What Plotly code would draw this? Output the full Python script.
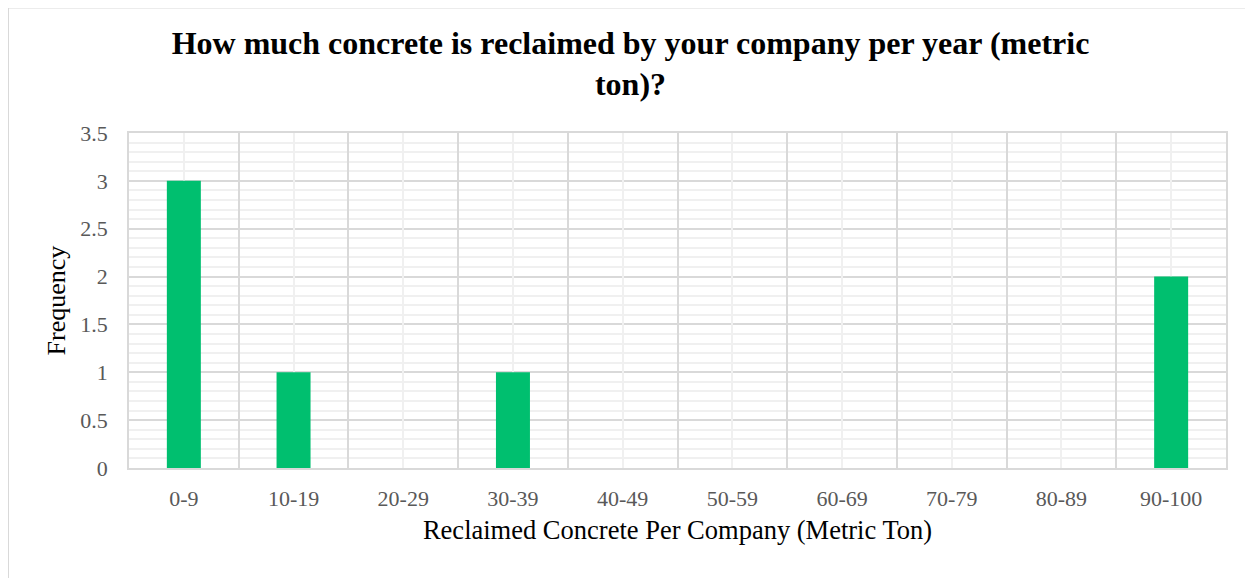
import plotly.graph_objects as go

categories = ["0-9", "10-19", "20-29", "30-39", "40-49",
              "50-59", "60-69", "70-79", "80-89", "90-100"]
frequency = [3, 1, 0, 1, 0, 0, 0, 0, 0, 2]

FONT = "Liberation Serif, Times New Roman, serif"
MAJOR = "#d9d9d9"
MINOR = "#f0f0f0"

fig = go.Figure()

fig.add_trace(
    go.Bar(
        x=categories,
        y=frequency,
        marker=dict(color="#00bf6f", line=dict(width=0)),
        width=0.31,
    )
)

# invisible trace on a numeric overlay axis, only to draw the minor vertical grid
fig.add_trace(
    go.Scatter(
        x=[0, 9],
        y=[0, 0],
        xaxis="x2",
        mode="markers",
        marker=dict(opacity=0),
        hoverinfo="skip",
        showlegend=False,
    )
)

fig.update_layout(
    width=1245,
    height=570,
    margin=dict(l=121, r=27, t=125, b=110),
    paper_bgcolor="white",
    plot_bgcolor="white",
    showlegend=False,
    title=dict(
        text="How much concrete is reclaimed by your company per year (metric<br>ton)?",
        x=0.5,
        xanchor="center",
        y=0.92,
        yanchor="top",
        font=dict(family=FONT, size=32, color="black", weight="bold"),
    ),
    font=dict(family=FONT),
    xaxis=dict(
        type="category",
        tickson="boundaries",
        showgrid=True,
        gridcolor=MAJOR,
        gridwidth=1.5,
        ticks="",
        tickfont=dict(family=FONT, size=22, color="#595959"),
        ticklabelstandoff=10,
        showline=True,
        linecolor=MAJOR,
        linewidth=1.5,
        mirror=True,
        zeroline=False,
        title=dict(text="Reclaimed Concrete Per Company (Metric Ton)",
                   font=dict(family=FONT, size=26.5, color="black"),
                   standoff=10),
        layer="below traces",
    ),
    xaxis2=dict(
        overlaying="x",
        range=[-0.5, 9.5],
        showgrid=True,
        gridcolor=MINOR,
        gridwidth=1.5,
        tick0=0,
        dtick=1,
        showticklabels=False,
        zeroline=False,
        layer="below traces",
    ),
    yaxis=dict(
        range=[0, 3.5],
        dtick=0.5,
        showgrid=True,
        gridcolor=MAJOR,
        gridwidth=1.5,
        minor=dict(dtick=0.1, showgrid=True, gridcolor=MINOR, gridwidth=1.5),
        tickfont=dict(family=FONT, size=22, color="#595959"),
        ticks="",
        ticklabelstandoff=15,
        zeroline=False,
        showline=True,
        linecolor=MAJOR,
        linewidth=1.5,
        mirror=True,
        title=dict(text="Frequency", font=dict(family=FONT, size=26, color="black"),
                   standoff=7),
    ),
)

# outer chart border (left and top visible)
fig.add_shape(
    type="rect", xref="paper", yref="paper",
    x0=-0.1103, x1=1.05, y0=-0.5, y1=1.375,
    line=dict(color="#d9d9d9", width=2),
)

fig.write_html("out.html")
